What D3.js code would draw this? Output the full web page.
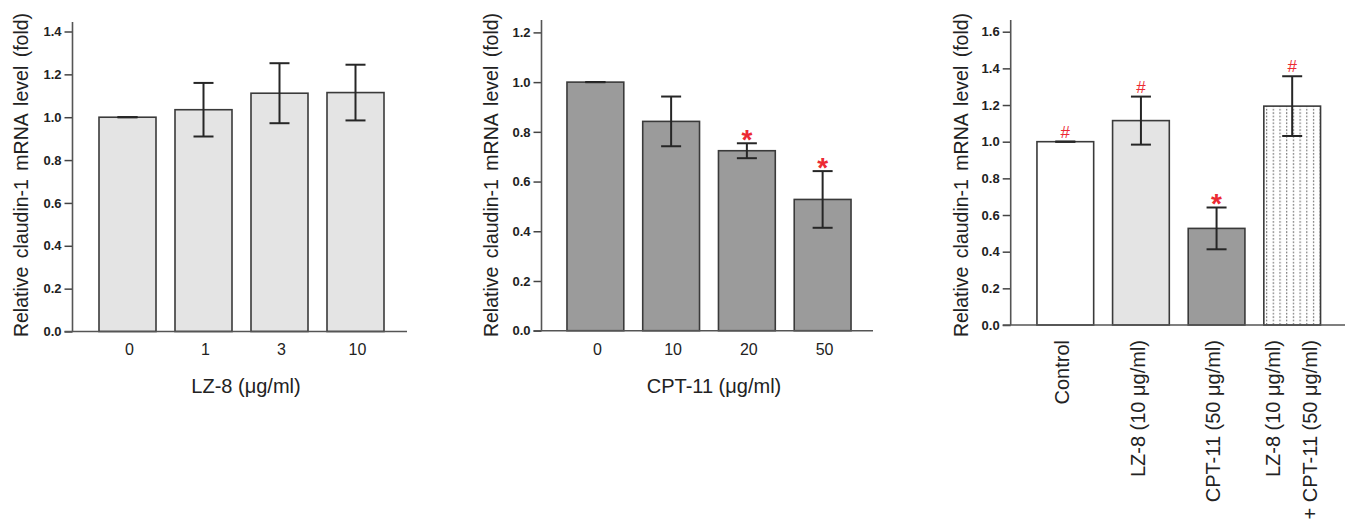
<!DOCTYPE html>
<html>
<head>
<meta charset="utf-8">
<script src="https://cdnjs.cloudflare.com/ajax/libs/d3/7.8.5/d3.min.js"></script>
<style>
  body { margin: 0; background: #fff; }
  svg { display: block; font-family: Arial, "Liberation Sans", sans-serif; }
</style>
</head>
<body>
<svg width="1349" height="531"></svg>
<script>
// left panel - LZ-8 dose response
var lz8Doses = ["0", "1", "3", "10"],
    lz8Mean  = [1.0, 1.035, 1.112, 1.115],
    lz8Sem   = [0, 0.125, 0.14, 0.13],
    lz8Marks = ["", "", "", ""],
    lz8Ticks = [0, 0.2, 0.4, 0.6, 0.8, 1.0, 1.2, 1.4];

// middle panel - CPT-11 dose response
var cptDoses = ["0", "10", "20", "50"],
    cptMean  = [1.0, 0.842, 0.724, 0.528],
    cptSem   = [0, 0.1, 0.03, 0.114],
    cptMarks = ["", "", "*", "*"],
    cptTicks = [0, 0.2, 0.4, 0.6, 0.8, 1.0, 1.2];

// right panel - combination
var comboGroups = ["Control", "LZ-8 (10 μg/ml)", "CPT-11 (50 μg/ml)", "LZ-8 (10 μg/ml)\n+ CPT-11 (50 μg/ml)"],
    comboMean   = [1.0, 1.115, 0.527, 1.194],
    comboSem    = [0, 0.131, 0.114, 0.163],
    comboMarks  = ["#", "#", "*", "#"],
    comboTicks  = [0, 0.2, 0.4, 0.6, 0.8, 1.0, 1.2, 1.4, 1.6];

var yTitle = "Relative claudin-1 mRNA level (fold)";

var svg = d3.select("svg");

// dotted fill for the combination bar
var pat = svg.append("defs").append("pattern")
    .attr("id", "dots")
    .attr("patternUnits", "userSpaceOnUse")
    .attr("x", 1266).attr("y", 0)
    .attr("width", 6.7).attr("height", 3.4);
pat.append("rect").attr("width", 6.7).attr("height", 3.4).attr("fill", "#fff");
pat.append("rect").attr("x", 0).attr("y", 0).attr("width", 1.2).attr("height", 1.8).attr("fill", "#808080");

var panels = [
    { cats: lz8Doses, mean: lz8Mean, sem: lz8Sem, marks: lz8Marks, ticks: lz8Ticks,
      fills: ["#e4e4e4", "#e4e4e4", "#e4e4e4", "#e4e4e4"],
      axisX: 72.5, base: 331.5, topY: 31.5, axisTop: 22, xRange: [89.5, 393.5], axisEnd: 407,
      title: "LZ-8 (μg/ml)", titleX: 246, yTitleX: 28 },
    { cats: cptDoses, mean: cptMean, sem: cptSem, marks: cptMarks, ticks: cptTicks,
      fills: ["#9b9b9b", "#9b9b9b", "#9b9b9b", "#9b9b9b"],
      axisX: 541.5, base: 330.7, topY: 32.4, axisTop: 20, xRange: [557.5, 860.5], axisEnd: 873,
      title: "CPT-11 (μg/ml)", titleX: 714, yTitleX: 498 },
    { cats: comboGroups, mean: comboMean, sem: comboSem, marks: comboMarks, ticks: comboTicks,
      fills: ["#fff", "#e4e4e4", "#9b9b9b", "url(#dots)"],
      axisX: 1010.7, base: 325, topY: 31.7, axisTop: 20, xRange: [1027.5, 1330], axisEnd: 1345,
      rotated: true, yTitleX: 968 }
];

panels.forEach(drawPanel);

function drawPanel(p) {
    var g = svg.append("g");
    var tMax = p.ticks[p.ticks.length - 1];

    var y = d3.scaleLinear().domain([0, tMax]).range([p.base, p.topY]);
    var x = d3.scaleBand().domain(p.cats).range(p.xRange)
        .paddingInner(0.25).paddingOuter(0.125);

    var rows = p.cats.map(function(c, i) {
        return { cat: c, mean: p.mean[i], sem: p.sem[i], mark: p.marks[i], fill: p.fills[i] };
    });

    // bars
    g.selectAll("rect.bar").data(rows).enter().append("rect")
        .attr("class", "bar")
        .attr("x", function(d) { return x(d.cat); })
        .attr("y", function(d) { return y(d.mean); })
        .attr("width", x.bandwidth())
        .attr("height", function(d) { return y(0) - y(d.mean); })
        .attr("fill", function(d) { return d.fill; })
        .attr("stroke", "#3a3a3a")
        .attr("stroke-width", 1.6);

    // error bars
    var eb = g.selectAll("g.err").data(rows).enter().append("g")
        .attr("stroke", "#262626").attr("stroke-width", 2);
    eb.append("line")
        .attr("x1", function(d) { return x(d.cat) + x.bandwidth() / 2; })
        .attr("x2", function(d) { return x(d.cat) + x.bandwidth() / 2; })
        .attr("y1", function(d) { return y(d.mean + d.sem); })
        .attr("y2", function(d) { return y(d.mean - d.sem); });
    [1, -1].forEach(function(s) {
        eb.append("line")
            .attr("x1", function(d) { return x(d.cat) + x.bandwidth() / 2 - 10; })
            .attr("x2", function(d) { return x(d.cat) + x.bandwidth() / 2 + 10; })
            .attr("y1", function(d) { return y(d.mean + s * d.sem); })
            .attr("y2", function(d) { return y(d.mean + s * d.sem); });
    });

    // significance marks
    g.selectAll("text.mark").data(rows.filter(function(d) { return d.mark; })).enter().append("text")
        .attr("class", "mark")
        .attr("x", function(d) { return x(d.cat) + x.bandwidth() / 2; })
        .attr("y", function(d) {
            return y(d.mean + d.sem) + (d.mark === "*" ? 6 : -4);
        })
        .attr("text-anchor", "middle")
        .attr("fill", "#ec2a33")
        .style("font-size", function(d) { return d.mark === "*" ? "28px" : "17px"; })
        .style("font-weight", function(d) { return d.mark === "*" ? "bold" : "normal"; })
        .text(function(d) { return d.mark; });

    // y axis
    var ya = g.append("g")
        .attr("transform", "translate(" + p.axisX + ",0)")
        .call(d3.axisLeft(y).tickValues(p.ticks).tickFormat(d3.format(".1f"))
            .tickSize(8).tickPadding(3).tickSizeOuter(0));
    ya.select(".domain").remove();
    ya.selectAll(".tick line").attr("stroke", "#444").attr("stroke-width", 1.5);
    ya.selectAll(".tick text")
        .attr("fill", "#222")
        .style("font-size", "13px")
        .style("font-weight", "bold")
        .style("font-family", "Arial, 'Liberation Sans', sans-serif");

    g.append("line")
        .attr("x1", p.axisX).attr("x2", p.axisX)
        .attr("y1", p.axisTop).attr("y2", p.base)
        .attr("stroke", "#555").attr("stroke-width", 1.6);
    g.append("line")
        .attr("x1", p.axisX - 8).attr("x2", p.axisEnd)
        .attr("y1", p.base).attr("y2", p.base)
        .attr("stroke", "#555").attr("stroke-width", 1.6);

    // y title
    g.append("text")
        .attr("transform", "translate(" + p.yTitleX + "," + 175 + ") rotate(-90)")
        .attr("text-anchor", "middle")
        .attr("fill", "#222")
        .style("font-size", "19.5px")
        .style("word-spacing", "3px")
        .text(yTitle);

    // category labels
    if (!p.rotated) {
        g.selectAll("text.cat").data(p.cats).enter().append("text")
            .attr("class", "cat")
            .attr("x", function(d) { return x(d) + x.bandwidth() / 2 + 2; })
            .attr("y", 355)
            .attr("text-anchor", "middle")
            .attr("fill", "#222")
            .style("font-size", "16px")
            .text(function(d) { return d; });

        g.append("text")
            .attr("x", p.titleX).attr("y", 393)
            .attr("text-anchor", "middle")
            .attr("fill", "#222")
            .style("font-size", "20px")
            .text(p.title);
    } else {
        p.cats.forEach(function(c) {
            var lines = c.split("\n");
            var cx = x(c) + x.bandwidth() / 2;
            lines.forEach(function(line, j) {
                var off = lines.length === 1 ? 3.7 : (j === 0 ? -11.8 : 25.2);
                g.append("text")
                    .attr("transform", "translate(" + (cx + off) + ",340) rotate(-90)")
                    .attr("text-anchor", "end")
                    .attr("fill", "#222")
                    .style("font-size", "20px")
                    .text(line);
            });
        });
    }
}
</script>
</body>
</html>
